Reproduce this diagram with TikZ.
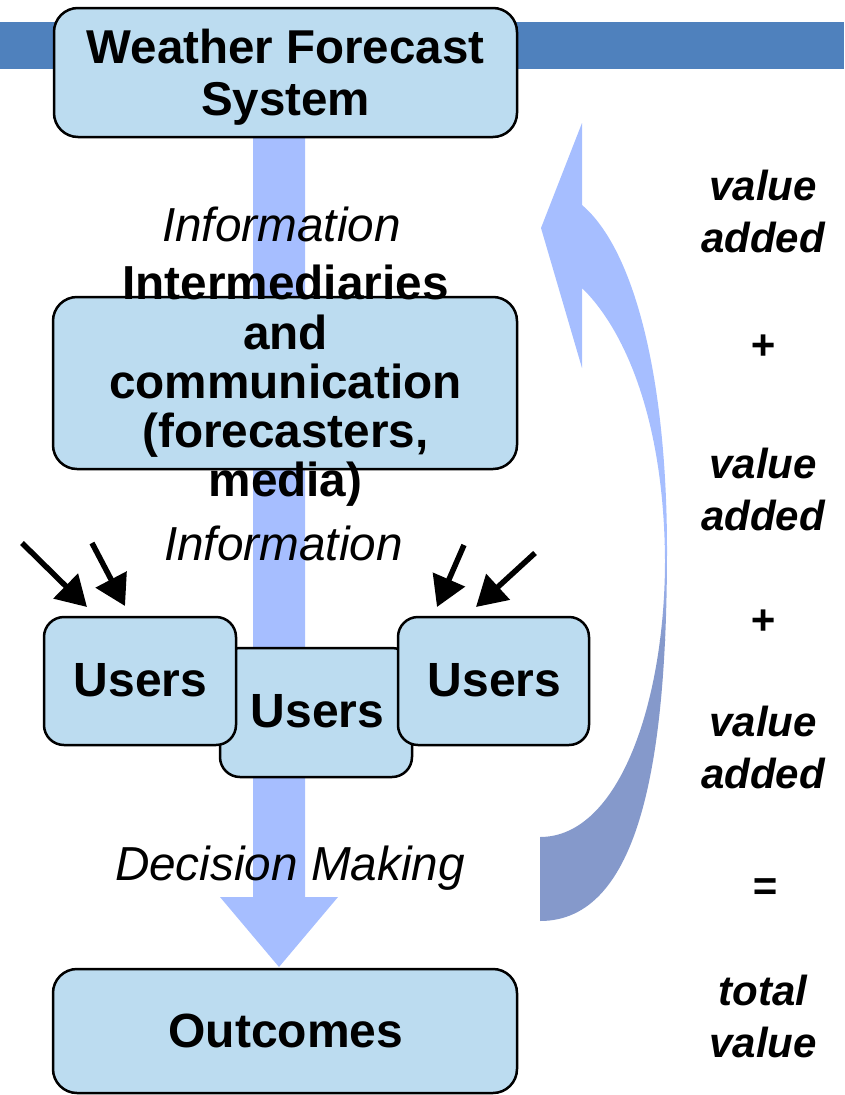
\documentclass[tikz,border=0pt]{standalone}
\usepackage{fontspec}
\setmainfont{Liberation Sans}
\usetikzlibrary{arrows.meta}
\definecolor{barblue}{RGB}{79,129,189}
\definecolor{boxfill}{RGB}{188,220,240}
\definecolor{flowblue}{RGB}{166,190,255}
\definecolor{darkflow}{RGB}{133,153,203}
\tikzset{
  box/.style={draw=black, line width=2.5pt, fill=boxfill, rounded corners=24pt, inner sep=0pt},
  boxtext/.style={font=\fontsize{48}{52}\selectfont\bfseries, align=center, inner sep=0pt},
  flowlabel/.style={font=\fontsize{47.7}{52}\selectfont\itshape, inner sep=0pt, anchor=base},
  valtext/.style={font=\fontsize{42}{52}\selectfont\bfseries\itshape, align=center, inner sep=0pt},
  userarrow/.style={line width=5.5pt, -{Triangle[length=30pt,width=34pt]}},
}
\begin{document}
\begin{tikzpicture}[x=1pt,y=-1pt]
\useasboundingbox (0,0) rectangle (844,1095);
% top band
\fill[barblue] (0,22) rectangle (844,69);
% main downward flow arrow
\fill[flowblue] (253,130) -- (253,897) -- (220,897) -- (279,967) -- (338,897) -- (305,897) -- (305,130) -- cycle;
% curved feedback arrow
\begin{scope}
  \clip (582,123) -- (541,228) -- (582,368) -- (582,288)
    .. controls (625,330) and (664,420) .. (665,560)
    .. controls (665,700) and (620,837) .. (540,837)
    -- (540,921)
    .. controls (640,921) and (667,760) .. (667,550)
    .. controls (667,380) and (635,250) .. (582,205) -- cycle;
  \fill[flowblue] (530,110) rectangle (680,545);
  \shade[top color=flowblue, bottom color=darkflow] (530,544) rectangle (680,640);
  \fill[darkflow] (530,639) rectangle (680,930);
\end{scope}
% boxes
\node[box, minimum width=463pt, minimum height=129pt] (wfs) at (285.5,72.5) {};
\node[boxtext, font=\fontsize{47.5}{52}\selectfont\bfseries] (wfstext) at (285.5,77) {Weather Forecast\\System};
\node[box, minimum width=464pt, minimum height=172pt] (inter) at (285,383) {};
\node[boxtext, font=\fontsize{47.7}{49.3}\selectfont\bfseries] (intertext) at (285.5,386)
  {Intermediaries\\and\\communication\\(forecasters,\\media)};
\node[box, rounded corners=20pt, minimum width=192pt, minimum height=129pt] (usersM) at (316,712.5) {};
\node[boxtext] (usersMtext) at (317.5,711) {Users};
\node[box, rounded corners=20pt, minimum width=192pt, minimum height=128pt] (usersL) at (140,681) {};
\node[boxtext] (usersLtext) at (140.5,680) {Users};
\node[box, rounded corners=20pt, minimum width=191pt, minimum height=128pt] (usersR) at (493.5,681) {};
\node[boxtext] (usersRtext) at (494.5,680) {Users};
\node[box, minimum width=464pt, minimum height=124pt] (outc) at (285,1031) {};
\node[boxtext] (outctext) at (286,1031) {Outcomes};
% flow labels
\node[flowlabel] (info1) at (281.5,241) {Information};
\node[flowlabel] (info2) at (283.5,560) {Information};
\node[flowlabel] (decide) at (290,880) {Decision Making};
% incoming arrows to users
\coordinate (a1s) at (22,543);  \coordinate (a1e) at (87,607);
\coordinate (a2s) at (92,543);  \coordinate (a2e) at (125,606);
\coordinate (a3s) at (464,545); \coordinate (a3e) at (437,607);
\coordinate (a4s) at (535,553); \coordinate (a4e) at (476,607);
\draw[userarrow] (a1s) -- (a1e);
\draw[userarrow] (a2s) -- (a2e);
\draw[userarrow] (a3s) -- (a3e);
\draw[userarrow] (a4s) -- (a4e);
% value column
\node[valtext] (v1) at (763,211) {value\\added};
\node[valtext] (p1) at (763,347) {+};
\node[valtext] (v2) at (763,489) {value\\added};
\node[valtext] (p2) at (763,622) {+};
\node[valtext] (v3) at (763,747.5) {value\\added};
\node[valtext] (eq) at (765,890) {=};
\node[valtext] (tot) at (763,1016) {total\\value};
\end{tikzpicture}
\end{document}
